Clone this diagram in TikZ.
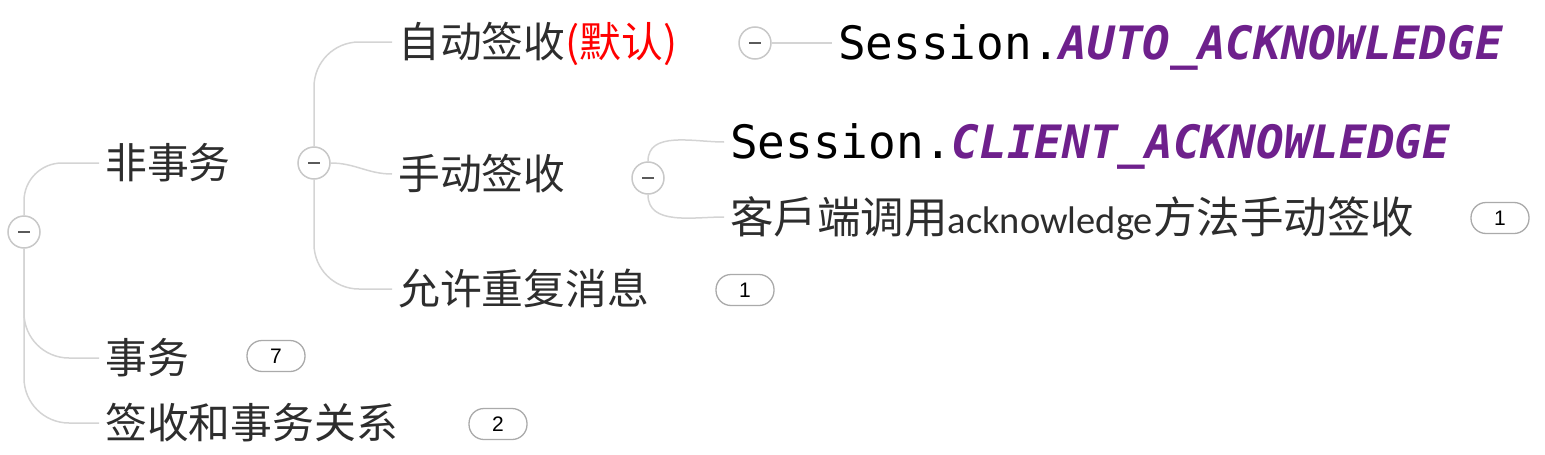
\documentclass[tikz,border=0pt]{standalone}
\usepackage{fontspec}
\newfontfamily\cjk{Noto Sans CJK SC}
\newfontfamily\monof{DejaVu Sans Mono}
\newfontfamily\monobi{DejaVu Sans Mono Bold Oblique}
\newfontfamily\latf{Carlito}
\newfontfamily\badgef{Liberation Sans}
\definecolor{linegray}{RGB}{212,212,212}
\definecolor{circgray}{RGB}{200,200,200}
\definecolor{badgegray}{RGB}{170,170,170}
\definecolor{txtgray}{RGB}{45,45,45}
\definecolor{cpurple}{RGB}{110,32,140}
\definecolor{dashgray}{RGB}{90,90,90}
\tikzset{
  conn/.style={draw=linegray, line width=1.5pt},
  toggle/.style={circle, draw=circgray, fill=white, line width=1.5pt, minimum size=32pt, inner sep=0pt},
  topic/.style={anchor=west, inner xsep=6pt, inner ysep=0pt, text=txtgray, font=\cjk\fontsize{41.8}{41.8}\selectfont, text height=34.5pt, text depth=3pt},
  code/.style={anchor=west, inner xsep=6pt, inner ysep=0pt, text=black, font=\monof\fontsize{46}{46}\selectfont, text height=33.5pt, text depth=0pt},
  badge/.style={draw=badgegray, fill=white, rounded corners=15pt, minimum width=58pt, minimum height=31pt, inner sep=0pt, line width=1.3pt, font=\badgef\fontsize{21}{21}\selectfont, text=black},
}
\newcommand{\mydash}{{\color{dashgray}\rule[-0.9pt]{12pt}{1.8pt}}}
\begin{document}
\begin{tikzpicture}[x=1pt, y=-1pt]
\useasboundingbox (0,0) rectangle (1545,455);
% toggles
\node[toggle] (c0) at (24,232) {\mydash};
\node[toggle] (c1) at (314,163) {\mydash};
\node[toggle] (c2) at (755,43) {\mydash};
\node[toggle] (c3) at (648,178) {\mydash};
% level 1
\node[topic] (n1) at (99,163) {非事务};
\node[topic] (n2) at (99,358) {事务};
\node[topic] (n3) at (99,423) {签收和事务关系};
% level 2
\node[topic] (n21) at (392,42) {自动签收{\color{red}(默认)}};
\node[topic] (n22) at (392,174) {手动签收};
\node[topic] (n23) at (392,289) {允许重复消息};
% level 3
\node[code] (s1) at (832,43) {Session.{\monobi\color{cpurple}AUTO\_ACKNOWLEDGE}};
\node[code] (s2) at (724,142) {Session.{\monobi\color{cpurple}CLIENT\_ACKNOWLEDGE}};
\node[topic, font=\cjk\fontsize{43.5}{43.5}\selectfont, text height=35pt, text depth=3pt] (s3) at (724,217) {客戶端调用{\latf\fontsize{38.5}{38.5}\selectfont acknowledge}方法手动签收};
% badges
\node[badge] (b7) at (276,356) {7};
\node[badge] (b2) at (498,424) {2};
\node[badge] (b1) at (745,290) {1};
\node[badge] (b1b) at (1500,218) {1};
% connectors
\draw[conn, rounded corners=38pt] (c0.north) |- (n1.west);
\draw[conn, rounded corners=45pt] (c0.south) |- (n2.west);
\draw[conn, rounded corners=45pt] (c0.south) |- (n3.west);
\draw[conn, rounded corners=45pt] (c1.north) |- (n21.west);
\draw[conn] (c1.east) to[out=0,in=180] (n22.west);
\draw[conn, rounded corners=45pt] (c1.south) |- (n23.west);
\draw[conn] (c2.east) -- (s1.west);
\draw[conn] (c3.north) to[out=90,in=180] (s2.west);
\draw[conn] (c3.south) to[out=-90,in=180] (s3.west);
\end{tikzpicture}
\end{document}
